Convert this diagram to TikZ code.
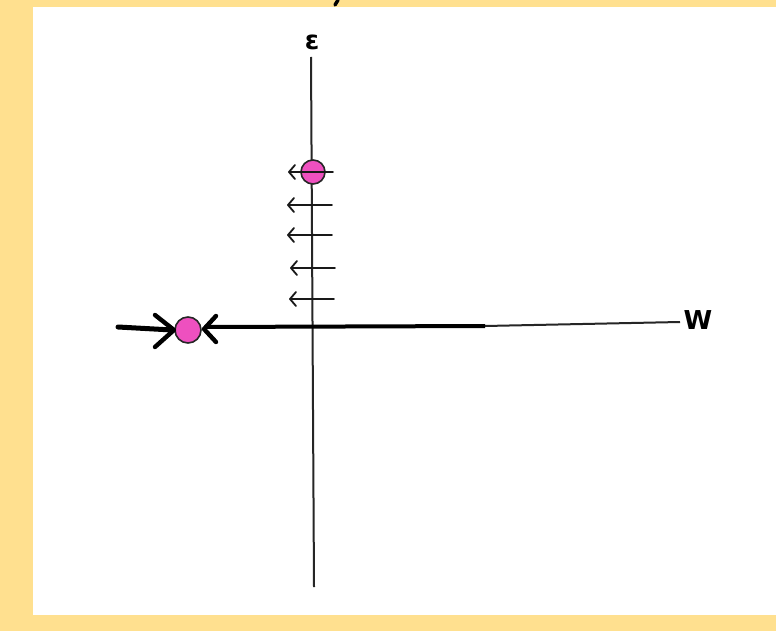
\documentclass[tikz,border=0pt]{standalone}
\usepackage{fontspec}
\setmainfont{DejaVu Sans}
\definecolor{bgyellow}{HTML}{FFE08F}
\definecolor{dotpink}{HTML}{EE50BF}
\begin{document}
\begin{tikzpicture}[x=1pt,y=-1pt,
  axis/.style={line width=2pt,black!85},
  thickaxis/.style={line width=4pt,black},
  flowline/.style={line width=1.8pt,black!90,line cap=round,line join=round},
  bigtip/.style={line width=4.4pt,black,line cap=round,line join=round},
  dot/.style={circle,draw=black!85,fill=dotpink,line width=1.6pt,minimum size=24pt,inner sep=0pt},
  lab/.style={font=\bfseries\fontsize{26}{28}\selectfont,text=black}]
\fill[bgyellow] (0,0) rectangle (776,631);
\fill[white] (33,7) rectangle (776,615);
\useasboundingbox (0,0) rectangle (776,631);
% fragment at top edge
\draw[line width=3.5pt,black,line cap=round] (338,0) -- (335,5);
% axes
\coordinate (vtop) at (311,57);
\coordinate (vbot) at (314,587);
\draw[axis] (vtop) -- (vbot);
\coordinate (hleft) at (118,327);
\coordinate (hmid) at (485,326);
\coordinate (hright) at (680,322);
\draw[axis] (hmid) -- (hright);
\draw[thickaxis] (205,327) -- (hmid);
\draw[line width=5pt,black,line cap=round] (hleft) -- (172,330);
\node[lab] (eps) at (312,42) {ε};
\node[lab] (w) at (698,320) {W};
% small arrows
\foreach \y/\xa/\xb in {172/333/289, 205/332/288, 235/332/288, 268/335/291, 299/334/290}{
  \draw[flowline] (\xa,\y) -- (\xb,\y);
  \draw[flowline] (\xb+6,\y-7) -- (\xb,\y) -- (\xb+6,\y+7);
}
% dots
\node[dot] (p1) at (313,172) {};
\draw[flowline] (p1.west) -- (p1.east);
\node[dot,minimum size=26pt] (p2) at (188,330) {};
% big arrow tips
\draw[bigtip] (155,315) -- (174,330) -- (155,347);
\draw[bigtip] (216,316) -- (204,329) -- (216,342);
\end{tikzpicture}
\end{document}
